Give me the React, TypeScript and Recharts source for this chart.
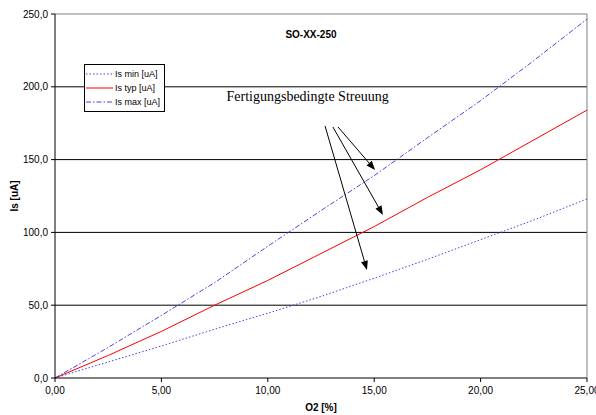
import React from 'react';
import { LineChart, Line, XAxis, YAxis, ReferenceLine, ReferenceDot, Label } from 'recharts';

const o2 = [0, 2.5, 5, 7.5, 10, 12.5, 15, 17.5, 20, 22.5, 25];
const isMin = [0, 11, 22, 33.5, 44.5, 56, 68.5, 81.5, 95, 108.5, 123];
const isTyp = [0, 15.5, 32, 50, 67, 85.5, 104, 124, 143, 163.5, 184];
const isMax = [0, 21, 43, 65.5, 90.5, 115, 139, 165, 190.5, 218, 246.5];

const xTicks = [0, 5, 10, 15, 20, 25];
const yTicks = [0, 50, 100, 150, 200, 250];
const gridValues = [50, 100, 150, 200];

const title = 'SO-XX-250';
const annotationText = 'Fertigungsbedingte Streuung';
const annotationPos = { x: 11.87, y: 190.2 };
const arrows = [
  { from: [12.69, 173.1], to: [14.66, 74.2] },
  { from: [13.06, 172.4], to: [15.41, 112.0] },
  { from: [13.3, 172.4], to: [15.04, 142.9] },
];

const seriesDefs = [
  { key: 'min', name: 'Is min [uA]', color: '#4444dd', dash: '1.5 2' },
  { key: 'typ', name: 'Is typ [uA]', color: '#ff0000', dash: undefined },
  { key: 'max', name: 'Is max [uA]', color: '#4444dd', dash: '5 2 1.5 2' },
];

const data = o2.map((x, i) => ({ x, min: isMin[i], typ: isTyp[i], max: isMax[i] }));

const font = '"Liberation Sans", Arial, sans-serif';
const fmtX = (v: number) => v.toFixed(2).replace('.', ',');
const fmtY = (v: number) => v.toFixed(1).replace('.', ',');

const ArrowShape = (props: any) => {
  const { x1, y1, x2, y2 } = props;
  const dx = x2 - x1;
  const dy = y2 - y1;
  const len = Math.sqrt(dx * dx + dy * dy);
  const ux = dx / len;
  const uy = dy / len;
  const hl = 9;
  const hw = 3.5;
  const bx = x2 - ux * hl;
  const by = y2 - uy * hl;
  const pts = `${x2},${y2} ${bx - uy * hw},${by + ux * hw} ${bx + uy * hw},${by - ux * hw}`;
  return (
    <g>
      <line x1={x1} y1={y1} x2={bx} y2={by} stroke="#000" strokeWidth={1} />
      <polygon points={pts} fill="#000" />
    </g>
  );
};

const TextShape = (props: any) => (
  <text x={props.cx} y={props.cy} textAnchor="middle" fontFamily='"Liberation Serif", "Times New Roman", serif' fontSize={14} fill="#000">
    {annotationText}
  </text>
);

const LegendBox = () => (
  <div style={{ position: 'absolute', left: 84, top: 64, border: '1px solid #000', background: '#fff', width: 81, padding: '2px 0 2px 0', boxSizing: 'border-box' }}>
    {seriesDefs.map((s) => (
      <div key={s.key} style={{ display: 'flex', alignItems: 'center', height: 14 }}>
        <svg width={30} height={6} style={{ display: 'block' }}>
          <line x1={1} y1={3} x2={28} y2={3} stroke={s.color} strokeWidth={1} strokeDasharray={s.dash} />
        </svg>
        <span style={{ fontFamily: font, fontSize: 9, color: '#000', whiteSpace: 'nowrap' }}>{s.name}</span>
      </div>
    ))}
  </div>
);

export default function App() {
  return (
    <div style={{ position: 'absolute', left: 0, top: 0, width: 596, height: 415, background: '#fff' }}>
      <LineChart width={596} height={415} data={data} margin={{ top: 14, right: 9, bottom: 0, left: 0 }}>
        {gridValues.map((v) => (
          <ReferenceLine key={v} y={v} stroke="#000" strokeWidth={1} />
        ))}
        <ReferenceLine y={250} stroke="#808080" strokeWidth={1} />
        <ReferenceLine x={25} stroke="#808080" strokeWidth={1} />
        <XAxis
          dataKey="x"
          type="number"
          domain={[0, 25]}
          ticks={xTicks}
          tickFormatter={fmtX}
          height={37}
          tickSize={4}
          tickMargin={5}
          stroke="#000"
          tick={{ fill: '#000', fontSize: 10, fontFamily: font }}
          interval={0}
        >
          <Label value="O2 [%]" position="insideBottom" offset={4} style={{ fontFamily: font, fontSize: 10, fontWeight: 'bold', fill: '#000' }} />
        </XAxis>
        <YAxis
          type="number"
          domain={[0, 250]}
          ticks={yTicks}
          tickFormatter={fmtY}
          width={55}
          tickSize={4}
          tickMargin={3}
          stroke="#000"
          tick={{ fill: '#000', fontSize: 10, fontFamily: font }}
          interval={0}
        >
          <Label value="Is [uA]" angle={-90} position="insideLeft" offset={14} style={{ fontFamily: font, fontSize: 10, fontWeight: 'bold', fill: '#000', textAnchor: 'middle' }} />
        </YAxis>
        {seriesDefs.map((s) => (
          <Line
            key={s.key}
            type="linear"
            dataKey={s.key}
            name={s.name}
            stroke={s.color}
            strokeWidth={1}
            strokeDasharray={s.dash}
            dot={false}
            activeDot={false}
            isAnimationActive={false}
          />
        ))}
        {arrows.map((a, i) => (
          <ReferenceLine
            key={i}
            segment={[{ x: a.from[0], y: a.from[1] }, { x: a.to[0], y: a.to[1] }]}
            shape={ArrowShape}
          />
        ))}
        <ReferenceDot x={annotationPos.x} y={annotationPos.y} r={0} shape={TextShape} />
      </LineChart>
      <LegendBox />
      <div style={{ position: 'absolute', left: 260, top: 29, width: 102, textAlign: 'center', fontFamily: font, fontSize: 10, fontWeight: 'bold', color: '#000' }}>
        {title}
      </div>
    </div>
  );
}
